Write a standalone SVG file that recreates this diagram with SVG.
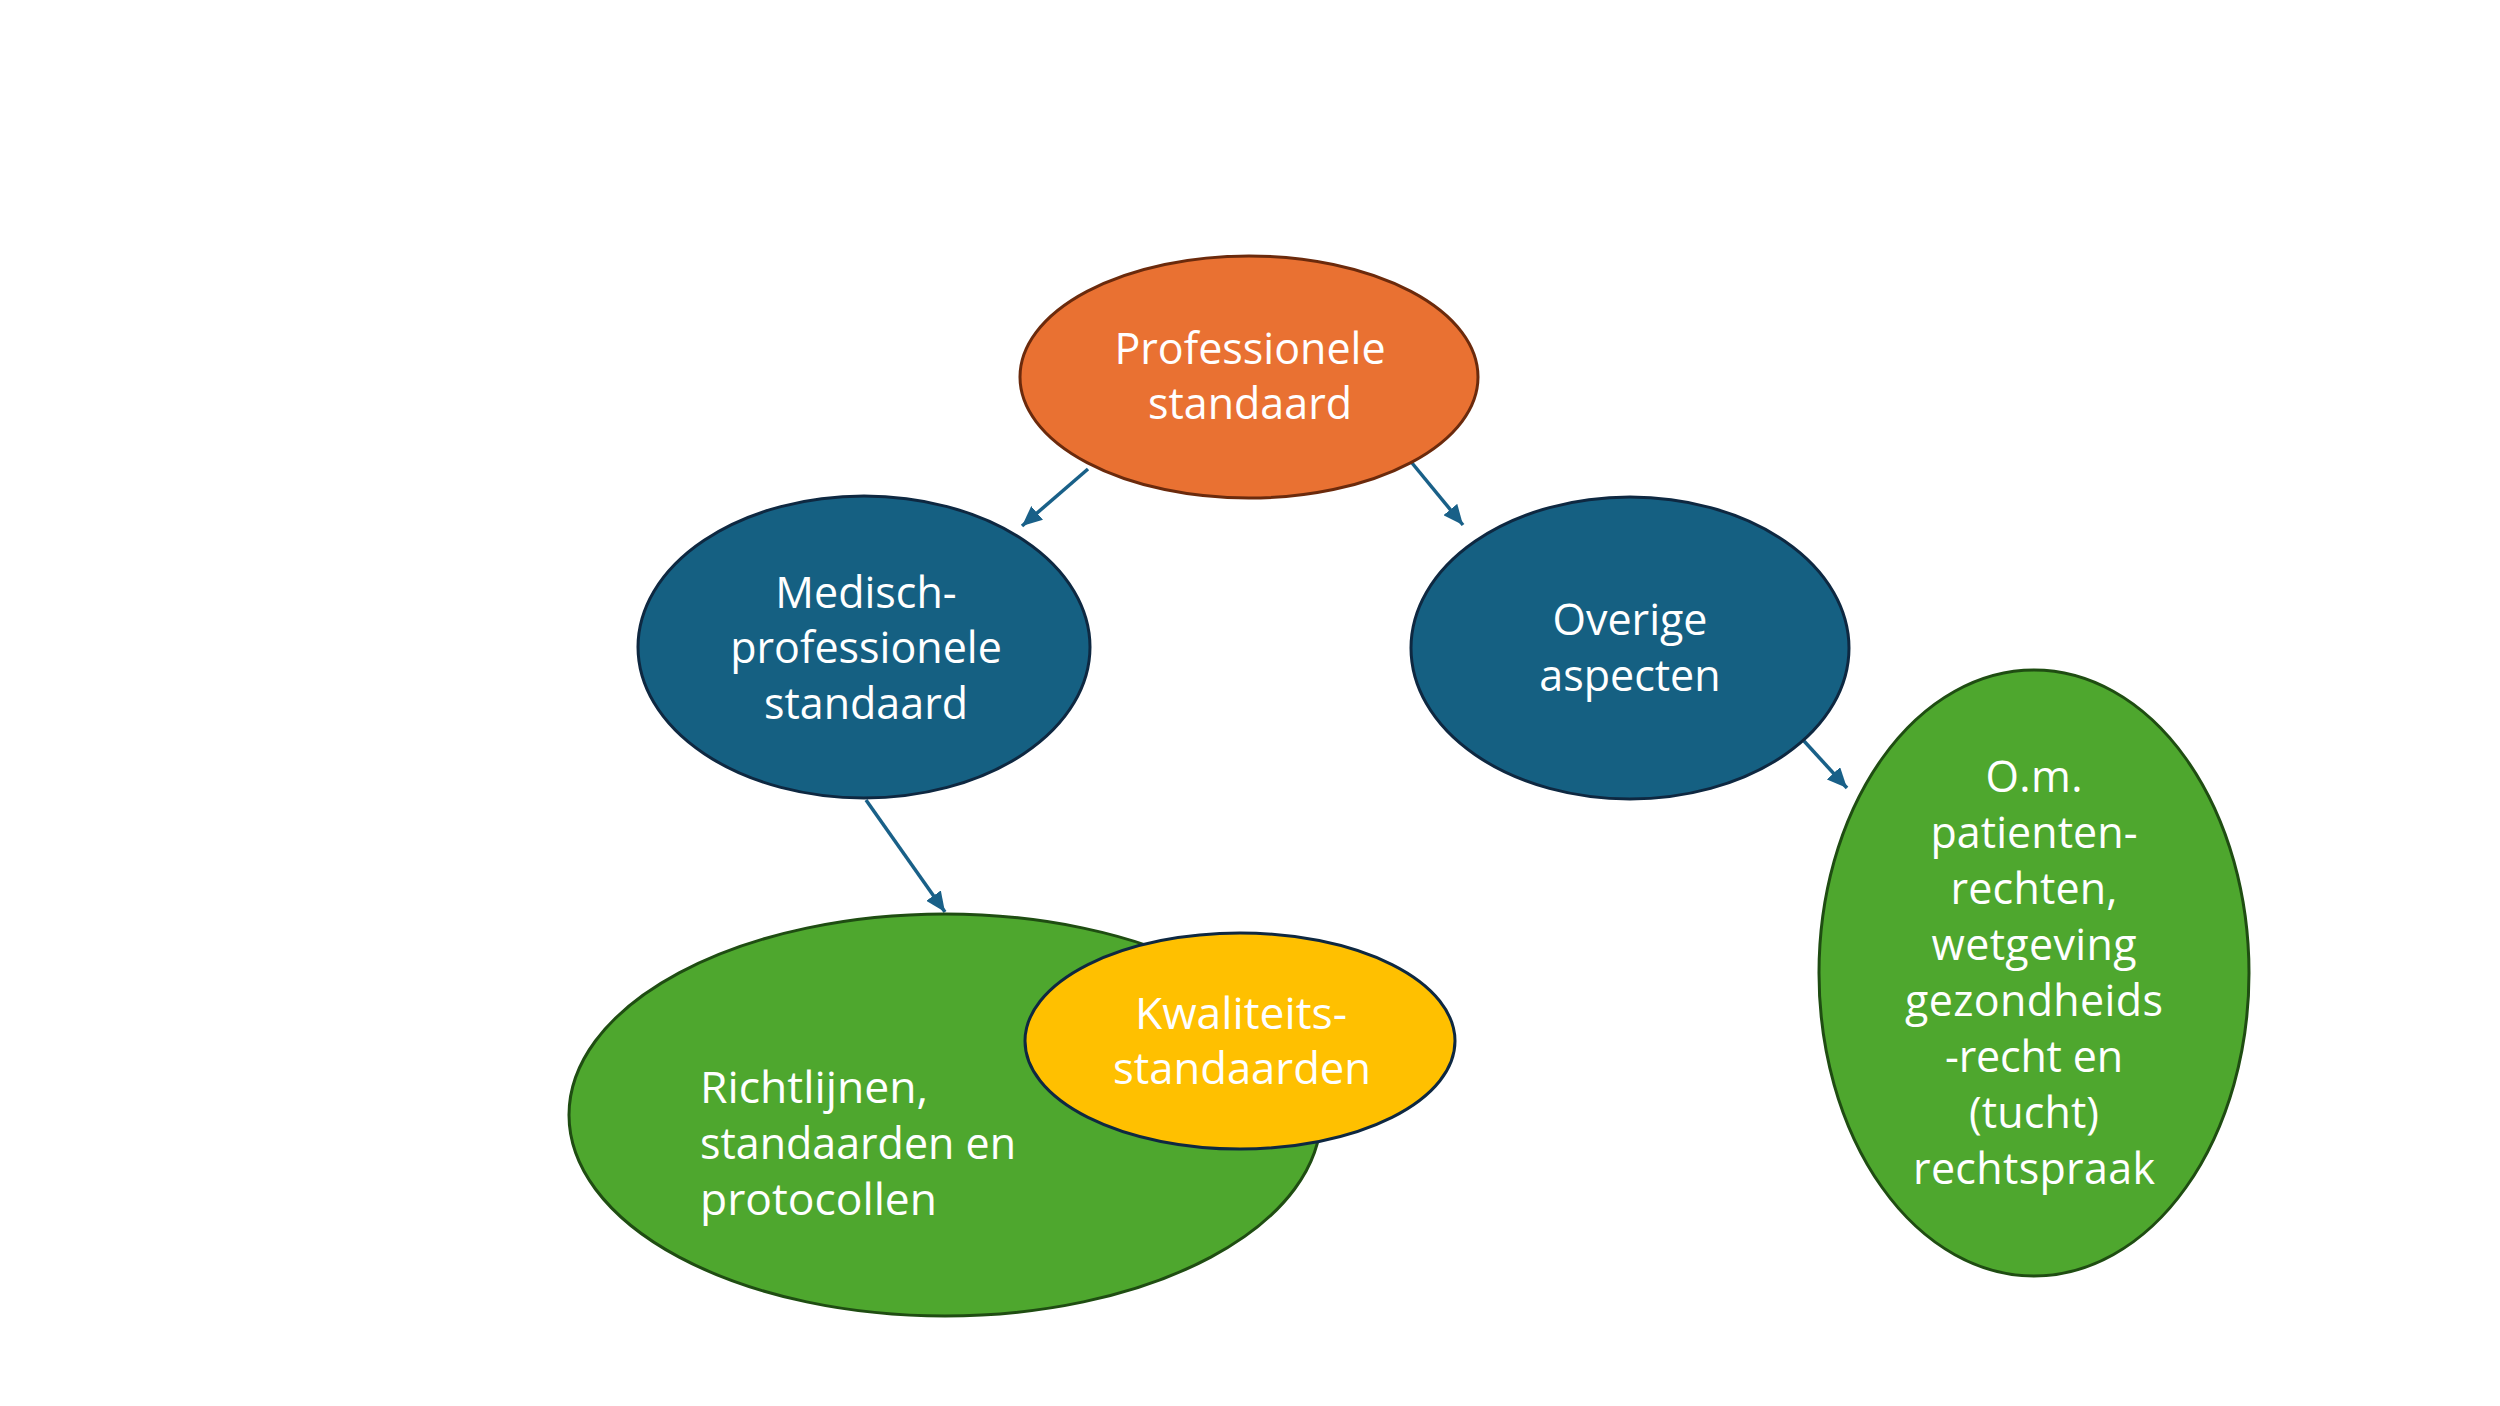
<svg xmlns="http://www.w3.org/2000/svg" width="2500" height="1406" viewBox="0 0 2500 1406">
<style>
.t{font-family:"Open Sans","Liberation Sans",sans-serif;font-size:43px;fill:#ffffff;}
.c{text-anchor:middle;}
.conn{stroke:#196088;stroke-width:3.5;fill:none;marker-end:url(#ah);}
</style>
<defs>
<marker id="ah" markerUnits="userSpaceOnUse" markerWidth="22" markerHeight="18" refX="20" refY="9" orient="auto">
<path d="M0,0 L20,9 L0,18 Z" fill="#196088"/>
</marker>
</defs>
<rect width="2500" height="1406" fill="#ffffff"/>
<g id="connectors">
<line class="conn" x1="1088" y1="469" x2="1022" y2="526"/>
<line class="conn" x1="1412" y1="463" x2="1463" y2="525"/>
<line class="conn" x1="866" y1="800" x2="945" y2="912"/>
<line class="conn" x1="1804" y1="741" x2="1847" y2="788"/>
</g>
<g id="professionele">
<ellipse cx="1249" cy="377" rx="229" ry="121" fill="#E97132" stroke="#6b2a0c" stroke-width="3"/>
<text class="t c" x="1250" y="364">Professionele</text>
<text class="t c" x="1250" y="419">standaard</text>
</g>
<g id="medisch">
<ellipse cx="864" cy="647" rx="226" ry="151" fill="#156082" stroke="#0e2841" stroke-width="3"/>
<text class="t c" x="866" y="608">Medisch-</text>
<text class="t c" x="866" y="663">professionele</text>
<text class="t c" x="866" y="719">standaard</text>
</g>
<g id="overige">
<ellipse cx="1630" cy="648" rx="219" ry="151" fill="#156082" stroke="#0e2841" stroke-width="3"/>
<text class="t c" x="1630" y="635">Overige</text>
<text class="t c" x="1630" y="691">aspecten</text>
</g>
<g id="om">
<ellipse cx="2034" cy="973" rx="215" ry="303" fill="#4EA72E" stroke="#1f4d12" stroke-width="3"/>
<text class="t c" x="2034" y="792" textLength="97" lengthAdjust="spacing">O.m.</text>
<text class="t c" x="2034" y="848" textLength="207" lengthAdjust="spacing">patienten-</text>
<text class="t c" x="2034" y="904" textLength="167" lengthAdjust="spacing">rechten,</text>
<text class="t c" x="2034" y="960" textLength="205" lengthAdjust="spacing">wetgeving</text>
<text class="t c" x="2034" y="1016" textLength="258" lengthAdjust="spacing">gezondheids</text>
<text class="t c" x="2034" y="1072" textLength="178" lengthAdjust="spacing">-recht en</text>
<text class="t c" x="2034" y="1128" textLength="130" lengthAdjust="spacing">(tucht)</text>
<text class="t c" x="2034" y="1184" textLength="242" lengthAdjust="spacing">rechtspraak</text>
</g>
<g id="richtlijnen">
<ellipse cx="945" cy="1115" rx="376" ry="201" fill="#4EA72E" stroke="#1f4d12" stroke-width="3"/>
<text class="t" x="700" y="1103" textLength="228" lengthAdjust="spacingAndGlyphs">Richtlijnen,</text>
<text class="t" x="700" y="1159" textLength="316" lengthAdjust="spacingAndGlyphs">standaarden en</text>
<text class="t" x="700" y="1215" textLength="237" lengthAdjust="spacingAndGlyphs">protocollen</text>
</g>
<g id="kwaliteits">
<ellipse cx="1240" cy="1041" rx="215" ry="108" fill="#FFC000" stroke="#0e2841" stroke-width="3"/>
<text class="t" x="1135" y="1029" textLength="212" lengthAdjust="spacingAndGlyphs">Kwaliteits-</text>
<text class="t" x="1113" y="1084" textLength="258" lengthAdjust="spacingAndGlyphs">standaarden</text>
</g>
</svg>
